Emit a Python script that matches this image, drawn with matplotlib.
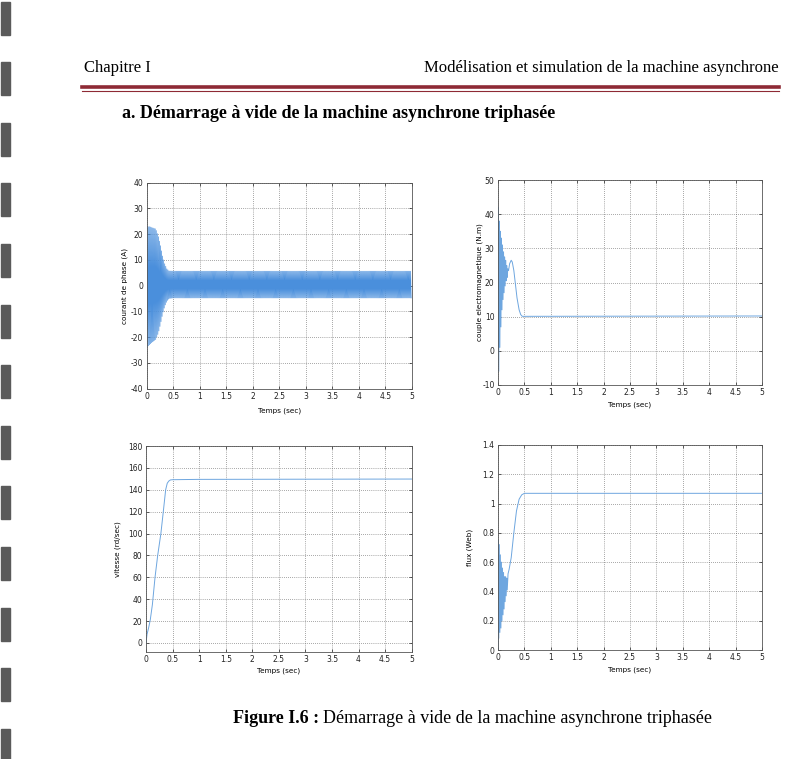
import numpy as np
import matplotlib
matplotlib.use("Agg")
import matplotlib.pyplot as plt
from matplotlib.lines import Line2D
from matplotlib.patches import Rectangle

# ---------------- données ----------------
f_reseau = 50.0   # fréquence du courant (Hz)
t_fin = 5.0

# courant de phase : enveloppes haute / basse (A)
t_env = [0.0, 0.05, 0.10, 0.17, 0.22, 0.26, 0.30, 0.34, 0.38, 0.42, 0.50, 1.0, 5.0]
i_haut = [22.5, 23.0, 22.5, 22.0, 19.0, 15.5, 11.5, 8.5, 6.5, 5.7, 5.6, 5.6, 5.6]
i_bas = [-24.0, -23.0, -22.0, -21.0, -18.5, -15.0, -11.0, -8.0, -6.0, -5.0, -4.8, -4.8, -4.8]

# couple électromagnétique (N.m) : extrema puis régime établi
t_cem = [0.0, 0.005, 0.015, 0.025, 0.035, 0.045, 0.055, 0.065, 0.075, 0.085,
         0.095, 0.105, 0.115, 0.125, 0.135, 0.145, 0.155, 0.165, 0.175, 0.185,
         0.20, 0.22, 0.25, 0.27, 0.30, 0.33, 0.36, 0.40, 0.43, 0.46, 0.50, 5.0]
cem = [0.0, 42.0, -6.0, 38.0, 1.0, 35.0, 7.0, 33.0, 12.0, 31.0,
       15.0, 29.0, 17.0, 27.5, 19.0, 26.5, 20.5, 25.0, 21.5, 24.0,
       23.5, 25.5, 26.5, 26.0, 23.5, 19.5, 15.5, 12.0, 10.6, 10.1, 10.1, 10.2]

# vitesse (rd/sec)
t_w = [0.0, 0.02, 0.05, 0.08, 0.12, 0.17, 0.22, 0.28, 0.33, 0.37, 0.40, 0.43, 0.46, 0.50, 1.0, 5.0]
w = [0.0, 8.0, 14.0, 21.0, 35.0, 60.0, 80.0, 100.0, 122.0, 140.0, 146.0, 148.0, 149.0, 149.2, 149.5, 149.8]

# flux (Web)
t_phi = [0.0, 0.005, 0.015, 0.025, 0.035, 0.045, 0.055, 0.065, 0.075, 0.085,
         0.095, 0.105, 0.115, 0.125, 0.135, 0.145, 0.155, 0.165, 0.175, 0.19,
         0.21, 0.25, 0.30, 0.35, 0.40, 0.45, 0.50, 5.0]
phi = [0.0, 0.75, 0.08, 0.72, 0.12, 0.65, 0.15, 0.60, 0.20, 0.56,
       0.24, 0.53, 0.28, 0.50, 0.33, 0.50, 0.37, 0.49, 0.41, 0.52,
       0.55, 0.63, 0.80, 0.95, 1.03, 1.06, 1.07, 1.07]

x_ticks = [0, 0.5, 1, 1.5, 2, 2.5, 3, 3.5, 4, 4.5, 5]
x_labels = ["0", "0.5", "1", "1.5", "2", "2.5", "3", "3.5", "4", "4.5", "5"]

# ---------------- figure ----------------
W, H = 794, 759
fig = plt.figure(figsize=(W / 100, H / 100), dpi=100)
fig.patch.set_facecolor("white")

def fx(x):
    return x / W

def fy(y):
    return 1 - y / H

# marques noires de la marge gauche (scan)
for k in range(13):
    y0 = 1.5 + k * 60.6
    fig.patches.append(Rectangle((fx(1), fy(y0 + 33)), fx(9), 33 / H,
                                 transform=fig.transFigure, color="#5a5a5a", zorder=0))

serif = "Liberation Serif"
fig.text(fx(84), fy(72), "Chapitre I", family=serif, fontsize=12, va="baseline")
fig.text(fx(779), fy(72), "Modélisation et simulation de la machine asynchrone",
         family=serif, fontsize=12, va="baseline", ha="right")
fig.lines.append(Line2D([fx(82), fx(779)], [fy(87), fy(87)], transform=fig.transFigure,
                        color="#8e2a35", lw=2.6))
fig.lines.append(Line2D([fx(82), fx(779)], [fy(91), fy(91)], transform=fig.transFigure,
                        color="#8e2a35", lw=0.8))
fig.text(fx(122), fy(118), "a. Démarrage à vide de la machine asynchrone triphasée",
         family=serif, fontsize=13, weight="bold", va="baseline")

cap = fig.text(fx(233), fy(723), "Figure I.6 :", family=serif, fontsize=13,
               weight="bold", va="baseline")
fig.canvas.draw()
bb = cap.get_window_extent()
fig.text(bb.x1 / W + fx(4), fy(723), "Démarrage à vide de la machine asynchrone triphasée",
         family=serif, fontsize=13, va="baseline")

# positions des axes (pixels : gauche, droite, haut, bas)
boxes = {
    "tl": (146.7, 411.7, 182.7, 388.5),
    "tr": (498.0, 762.0, 180.0, 385.0),
    "bl": (146.0, 411.7, 446.0, 651.7),
    "br": (498.0, 762.0, 445.0, 650.0),
}

blue = "#4a8fdc"
light = "#6ea6df"

def make_ax(key, ylim, yticks, ylabel, xlab_y, ylab_x):
    l, r, t, b = boxes[key]
    ax = fig.add_axes([fx(l), fy(b), (r - l) / W, (b - t) / H])
    ax.set_xlim(0, t_fin)
    ax.set_ylim(*ylim)
    ax.set_xticks(x_ticks)
    ax.set_xticklabels(x_labels)
    ax.set_yticks(yticks)
    ax.set_yticklabels([f"{v:g}" for v in yticks])
    ax.tick_params(direction="in", length=2, width=0.5, labelsize=5.5, pad=2.5,
                   top=True, right=True, colors="#222222")
    ax.grid(True, linestyle=(0, (1, 2)), color="#555555", lw=0.5)
    for s in ax.spines.values():
        s.set_linewidth(0.6)
        s.set_color("#555555")
    ax.set_xlabel("Temps (sec)", fontsize=5.2)
    ax.set_ylabel(ylabel, fontsize=5.2)
    ax.xaxis.set_label_coords(0.5, xlab_y)
    ax.yaxis.set_label_coords(ylab_x, 0.5)
    return ax

# courant de phase
ax1 = make_ax("tl", (-40, 40), list(range(-40, 41, 10)), "courant de phase (A)", -0.09, -0.07)
t_demi = np.arange(0, t_fin, 0.5 / f_reseau)
haut = np.interp(t_demi, t_env, i_haut)
bas = np.interp(t_demi, t_env, i_bas)
pics = np.where(np.arange(len(t_demi)) % 2 == 0, haut, bas)
ax1.plot(t_demi, pics, color=blue, lw=0.5)

# couple électromagnétique
ax2 = make_ax("tr", (-10, 50), list(range(-10, 51, 10)), "couple electromagnetique (N.m)", -0.081, -0.057)
ax2.plot(t_cem, cem, color=light, lw=0.7)

# vitesse
ax3 = make_ax("bl", (-8, 180), list(range(0, 181, 20)), "vitesse (rd/sec)", -0.079, -0.095)
ax3.plot(t_w, w, color=light, lw=0.7)

# flux
ax4 = make_ax("br", (0, 1.4), [0, 0.2, 0.4, 0.6, 0.8, 1, 1.2, 1.4], "flux (Web)", -0.081, -0.095)
ax4.plot(t_phi, phi, color=light, lw=0.7)

fig.savefig("out.png", dpi=100)
